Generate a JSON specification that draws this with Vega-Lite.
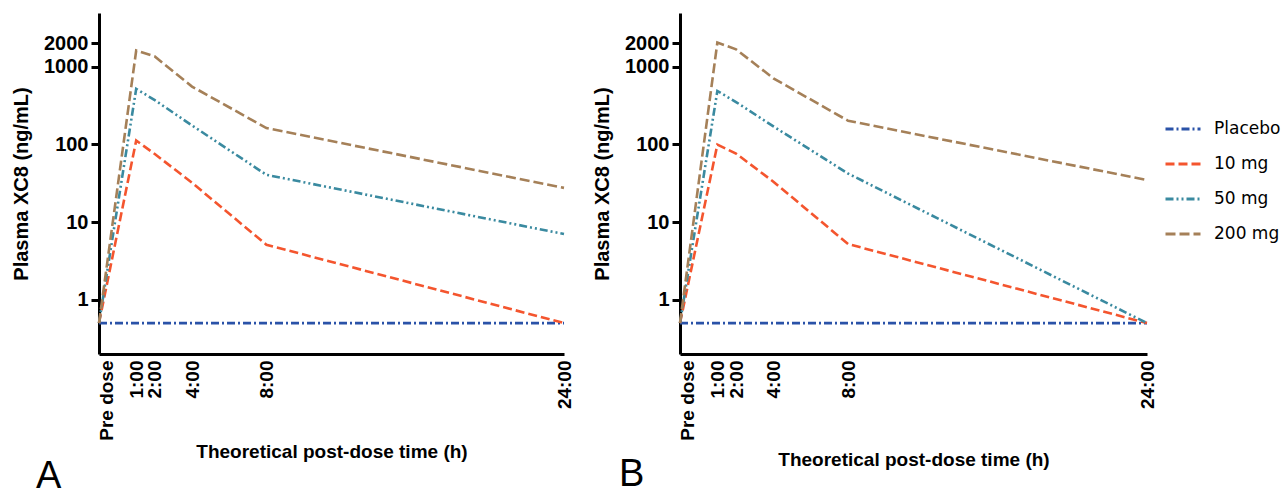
{
  "$schema": "https://vega.github.io/schema/vega-lite/v6.json",
  "padding": {"left": 11, "top": 13, "right": 0, "bottom": 0},
  "background": "white",
  "data": {"values": [
    {"panel": "A", "group": "Placebo", "time": -1, "conc": 0.5},
    {"panel": "A", "group": "Placebo", "time": 1, "conc": 0.5},
    {"panel": "A", "group": "Placebo", "time": 2, "conc": 0.5},
    {"panel": "A", "group": "Placebo", "time": 4, "conc": 0.5},
    {"panel": "A", "group": "Placebo", "time": 8, "conc": 0.5},
    {"panel": "A", "group": "Placebo", "time": 24, "conc": 0.5},
    {"panel": "A", "group": "10 mg", "time": -1, "conc": 0.5},
    {"panel": "A", "group": "10 mg", "time": 1, "conc": 112},
    {"panel": "A", "group": "10 mg", "time": 2, "conc": 75},
    {"panel": "A", "group": "10 mg", "time": 4, "conc": 32},
    {"panel": "A", "group": "10 mg", "time": 8, "conc": 5.1},
    {"panel": "A", "group": "10 mg", "time": 24, "conc": 0.5},
    {"panel": "A", "group": "50 mg", "time": -1, "conc": 0.5},
    {"panel": "A", "group": "50 mg", "time": 1, "conc": 518},
    {"panel": "A", "group": "50 mg", "time": 2, "conc": 370},
    {"panel": "A", "group": "50 mg", "time": 4, "conc": 175},
    {"panel": "A", "group": "50 mg", "time": 8, "conc": 40.5},
    {"panel": "A", "group": "50 mg", "time": 24, "conc": 7.0},
    {"panel": "A", "group": "200 mg", "time": -1, "conc": 0.5},
    {"panel": "A", "group": "200 mg", "time": 1, "conc": 1610},
    {"panel": "A", "group": "200 mg", "time": 2, "conc": 1350},
    {"panel": "A", "group": "200 mg", "time": 4, "conc": 554},
    {"panel": "A", "group": "200 mg", "time": 8, "conc": 162},
    {"panel": "A", "group": "200 mg", "time": 24, "conc": 27.5},
    {"panel": "B", "group": "Placebo", "time": -1, "conc": 0.5},
    {"panel": "B", "group": "Placebo", "time": 1, "conc": 0.5},
    {"panel": "B", "group": "Placebo", "time": 2, "conc": 0.5},
    {"panel": "B", "group": "Placebo", "time": 4, "conc": 0.5},
    {"panel": "B", "group": "Placebo", "time": 8, "conc": 0.5},
    {"panel": "B", "group": "Placebo", "time": 24, "conc": 0.5},
    {"panel": "B", "group": "10 mg", "time": -1, "conc": 0.5},
    {"panel": "B", "group": "10 mg", "time": 1, "conc": 99},
    {"panel": "B", "group": "10 mg", "time": 2, "conc": 76},
    {"panel": "B", "group": "10 mg", "time": 4, "conc": 33},
    {"panel": "B", "group": "10 mg", "time": 8, "conc": 5.2},
    {"panel": "B", "group": "10 mg", "time": 24, "conc": 0.5},
    {"panel": "B", "group": "50 mg", "time": -1, "conc": 0.5},
    {"panel": "B", "group": "50 mg", "time": 1, "conc": 486},
    {"panel": "B", "group": "50 mg", "time": 2, "conc": 350},
    {"panel": "B", "group": "50 mg", "time": 4, "conc": 170},
    {"panel": "B", "group": "50 mg", "time": 8, "conc": 42},
    {"panel": "B", "group": "50 mg", "time": 24, "conc": 0.5},
    {"panel": "B", "group": "200 mg", "time": -1, "conc": 0.5},
    {"panel": "B", "group": "200 mg", "time": 1, "conc": 2040},
    {"panel": "B", "group": "200 mg", "time": 2, "conc": 1670},
    {"panel": "B", "group": "200 mg", "time": 4, "conc": 707},
    {"panel": "B", "group": "200 mg", "time": 8, "conc": 201},
    {"panel": "B", "group": "200 mg", "time": 24, "conc": 34.7}
  ]},
  "spacing": 18,
  "hconcat": [
    {
      "width": 465,
      "height": 341,
      "title": {"text": "A", "orient": "bottom", "anchor": "start", "frame": "group", "dx": -63, "offset": -3, "fontSize": 38, "fontWeight": "normal", "font": "Liberation Sans"},
      "transform": [{"filter": "datum.panel == 'A'"}],
      "mark": {"type": "line", "strokeWidth": 2.6},
      "encoding": {
        "x": {"field": "time", "type": "quantitative", "scale": {"domain": [-1, 24], "nice": false, "zero": false},
          "axis": {"values": [-0.6, 1, 2, 4, 8, 24], "labelExpr": "datum.value < 0 ? 'Pre dose' : datum.value + ':00'", "labelOverlap": false, "labelFontSize": 19, "title": "Theoretical post-dose time (h)"}},
        "y": {"field": "conc", "type": "quantitative", "scale": {"type": "log", "domain": [0.2, 4900], "nice": false},
          "axis": {"values": [1, 10, 100, 1000, 2000], "format": "d", "labelOverlap": false, "labelFontSize": 20, "title": "Plasma XC8 (ng/mL)"}},
        "color": {"field": "group", "type": "nominal", "scale": {"domain": ["Placebo", "10 mg", "50 mg", "200 mg"], "range": ["#2a52a8", "#f4552e", "#3a8aa0", "#a58058"]}},
        "strokeDash": {"field": "group", "type": "nominal", "scale": {"domain": ["Placebo", "10 mg", "50 mg", "200 mg"], "range": [[8, 3, 2, 3], [9, 4], [8, 3, 2, 3, 2, 3], [10, 4]]}}
      }
    },
    {
      "width": 467,
      "height": 341,
      "title": {"text": "B", "orient": "bottom", "anchor": "start", "frame": "group", "dx": -61, "offset": -13, "fontSize": 38, "fontWeight": "normal", "font": "Liberation Sans"},
      "transform": [{"filter": "datum.panel == 'B'"}],
      "mark": {"type": "line", "strokeWidth": 2.6},
      "encoding": {
        "x": {"field": "time", "type": "quantitative", "scale": {"domain": [-1, 24], "nice": false, "zero": false},
          "axis": {"values": [-0.6, 1, 2, 4, 8, 24], "labelExpr": "datum.value < 0 ? 'Pre dose' : datum.value + ':00'", "labelOverlap": false, "labelFontSize": 19, "titlePadding": 10, "title": "Theoretical post-dose time (h)"}},
        "y": {"field": "conc", "type": "quantitative", "scale": {"type": "log", "domain": [0.2, 4900], "nice": false},
          "axis": {"values": [1, 10, 100, 1000, 2000], "format": "d", "labelOverlap": false, "labelFontSize": 20, "title": "Plasma XC8 (ng/mL)"}},
        "color": {"field": "group", "type": "nominal", "scale": {"domain": ["Placebo", "10 mg", "50 mg", "200 mg"], "range": ["#2a52a8", "#f4552e", "#3a8aa0", "#a58058"]},
          "legend": {"title": null, "orient": "none", "legendX": 1065, "legendY": 97, "symbolType": "stroke", "symbolSize": 1225, "symbolStrokeWidth": 3, "labelFont": "DejaVu Sans", "labelFontSize": 17, "labelOffset": 12, "rowPadding": 8, "labelColor": "black"}},
        "strokeDash": {"field": "group", "type": "nominal", "scale": {"domain": ["Placebo", "10 mg", "50 mg", "200 mg"], "range": [[8, 3, 2, 3], [9, 4], [8, 3, 2, 3, 2, 3], [10, 4]]},
          "legend": {"title": null, "orient": "none", "legendX": 1065, "legendY": 97, "symbolType": "stroke", "symbolSize": 1225, "symbolStrokeWidth": 3, "labelFont": "DejaVu Sans", "labelFontSize": 17, "labelOffset": 12, "rowPadding": 8, "labelColor": "black"}}
      }
    }
  ],
  "config": {
    "view": {"stroke": null},
    "font": "Liberation Sans",
    "axis": {
      "domainColor": "black", "domainWidth": 3, "grid": false,
      "labelFont": "Liberation Sans", "labelFontWeight": "bold", "labelColor": "black",
      "titleFont": "Liberation Sans", "titleFontWeight": "bold", "titleColor": "black", "titleFontSize": 19,
      "tickColor": "black", "tickWidth": 3
    },
    "axisX": {"labelAngle": -90, "ticks": false, "labelPadding": 6, "titlePadding": 2, "labelBound": false},
    "axisY": {"tickSize": 8, "labelPadding": 3, "titlePadding": 12, "titleFontSize": 20}
  }
}
